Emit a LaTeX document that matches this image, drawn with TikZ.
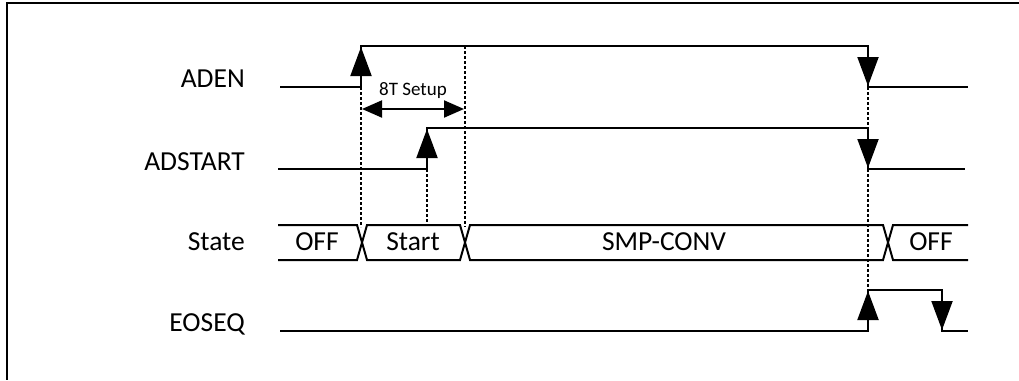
\documentclass[tikz,border=0pt]{standalone}
\usepackage{fontspec}
\setmainfont{Carlito}
\usetikzlibrary{arrows.meta}
\begin{document}
\begin{tikzpicture}[x=1pt,y=-1pt,
  sig/.style={line width=2pt},
  guide/.style={line width=2pt,dash pattern=on 3pt off 2pt},
  frame/.style={line width=2pt},
  uparr/.style={line width=2pt,-{Triangle[length=29pt,width=21pt]}},
  dimarr/.style={line width=2pt,{Triangle[length=20pt,width=17pt]}-{Triangle[length=20pt,width=17pt]}},
  lbl/.style={anchor=base east,inner sep=0pt,font=\fontsize{27.5}{30}\selectfont},
  stlbl/.style={anchor=base,inner sep=0pt,font=\fontsize{27.5}{30}\selectfont},
  small/.style={anchor=base,inner sep=0pt,font=\fontsize{19}{20}\selectfont}]
\useasboundingbox (0,0) rectangle (1019,380);
% frame (only top and left visible)
\draw[frame] (1019,3) -- (7,3) -- (7,380);
% labels
\node[lbl] (lADEN) at (245,87) {ADEN};
\node[lbl] (lADSTART) at (245,170) {ADSTART};
\node[lbl] (lState) at (245,250) {State};
\node[lbl] (lEOSEQ) at (245,331) {EOSEQ};
% ADEN
\coordinate (a0) at (280,87); \coordinate (a1) at (361,87); \coordinate (a2) at (361,46);
\coordinate (a3) at (868,46); \coordinate (a4) at (868,87); \coordinate (a5) at (968,87);
\draw[sig] (a0) -- (a1) -- (a2) -- (a3) -- (a4) -- (a5);
\draw[uparr] (a1) -- (361,47);
\draw[uparr] (a3) -- (868,86);
% ADSTART
\coordinate (b0) at (278,169); \coordinate (b1) at (427,169); \coordinate (b2) at (427,128);
\coordinate (b3) at (868,128); \coordinate (b4) at (868,169); \coordinate (b5) at (965,169);
\draw[sig] (b0) -- (b1) -- (b2) -- (b3) -- (b4) -- (b5);
\draw[uparr] (b1) -- (427,129);
\draw[uparr] (b3) -- (868,168);
% EOSEQ
\coordinate (e0) at (280,331); \coordinate (e1) at (868,331); \coordinate (e2) at (868,290);
\coordinate (e3) at (942,290); \coordinate (e4) at (942,331); \coordinate (e5) at (968,331);
\draw[sig] (e0) -- (e1) -- (e2) -- (e3) -- (e4) -- (e5);
\draw[uparr] (e1) -- (868,291);
\draw[uparr] (e3) -- (942,330);
% State bus
\def\yt{225}\def\yb{260}
\draw[sig] (278,\yt) -- (357,\yt) -- (367,\yb) -- (460,\yb) -- (470,\yt) -- (883,\yt) -- (893,\yb) -- (968,\yb);
\draw[sig] (278,\yb) -- (357,\yb) -- (367,\yt) -- (460,\yt) -- (470,\yb) -- (883,\yb) -- (893,\yt) -- (968,\yt);
\node[stlbl] (sOFF1) at (317,250) {OFF};
\node[stlbl] (sStart) at (413,250) {Start};
\node[stlbl] (sSMP) at (664,250) {SMP-CONV};
\node[stlbl] (sOFF2) at (931,250) {OFF};
% guides
\coordinate (g1) at (361,227); \coordinate (g2t) at (465,46); \coordinate (g2) at (465,227);
\coordinate (g3) at (427,225);
\draw[guide] (a1) -- (g1);
\draw[guide] (g2t) -- (g2);
\draw[guide] (b1) -- (g3);
\draw[guide] (a4) -- (b3);
\draw[guide] (b4) -- (e2);
% 8T setup
\coordinate (d0) at (362,109); \coordinate (d1) at (464,109);
\draw[dimarr] (d0) -- (d1);
\node[small] (setup) at (413,95) {8T Setup};
\end{tikzpicture}
\end{document}
